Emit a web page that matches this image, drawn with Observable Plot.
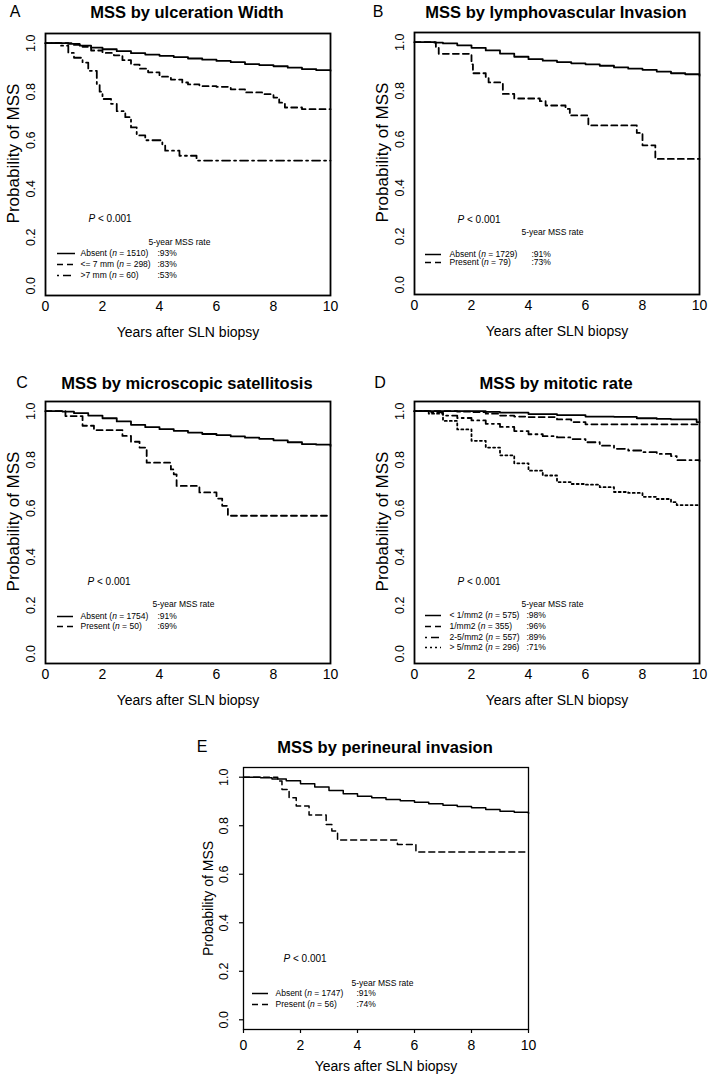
<!DOCTYPE html>
<html><head><meta charset="utf-8">
<script src="https://cdn.jsdelivr.net/npm/d3@7"></script>
<script src="https://cdn.jsdelivr.net/npm/@observablehq/plot@0.6"></script>
<style>
body{margin:0;background:#fff;font-family:"Liberation Sans",Arial,sans-serif;overflow:hidden}
#root{position:relative;width:709px;height:1075px}
.lbl{position:absolute;transform:translate(-50%,-50%);line-height:1;white-space:nowrap;color:#000}
.letter{font-size:16px}
.title{font-size:16.5px;font-weight:bold}
.plot{position:absolute}
</style></head><body><div id="root"></div>
<script>
// ---------- data ----------
const yearTicks = [0, 2, 4, 6, 8, 10];
const probTicks = [0, 0.2, 0.4, 0.6, 0.8, 1.0];
const legendHeader = "5-year MSS rate";
const pValueText = "P < 0.001";
const xLabel = "Years after SLN biopsy";
const yLabel = "Probability of MSS";

// A: ulceration width
const aAbsentT = [0, 0.8, 1.2, 1.6, 2.0, 2.5, 3.0, 3.5, 4.0, 4.5, 5.0, 5.5, 6.0, 6.5, 7.0, 7.5, 8.0, 8.5, 9.0, 9.5, 10];
const aAbsentS = [1.0, 0.997, 0.99, 0.982, 0.975, 0.967, 0.959, 0.953, 0.948, 0.943, 0.937, 0.932, 0.927, 0.922, 0.914, 0.91, 0.905, 0.899, 0.893, 0.889, 0.886];
const aMidT = [0, 1.0, 1.3, 1.6, 2.0, 2.4, 2.7, 3.0, 3.3, 3.6, 4.0, 4.4, 4.8, 5.0, 5.4, 6.0, 6.5, 7.0, 7.6, 8.0, 8.2, 8.4, 9.0, 10];
const aMidS = [1.0, 0.993, 0.985, 0.97, 0.96, 0.95, 0.93, 0.912, 0.895, 0.88, 0.862, 0.85, 0.838, 0.83, 0.823, 0.82, 0.81, 0.797, 0.79, 0.776, 0.755, 0.735, 0.728, 0.728];
const aWideT = [0, 0.5, 0.8, 1.0, 1.3, 1.5, 1.8, 1.9, 2.0, 2.3, 2.5, 2.8, 3.0, 3.2, 3.5, 4.1, 4.2, 4.7, 5.3, 10];
const aWideS = [1.0, 0.99, 0.96, 0.94, 0.92, 0.886, 0.83, 0.80, 0.77, 0.75, 0.72, 0.695, 0.653, 0.62, 0.60, 0.578, 0.557, 0.536, 0.516, 0.516];
const aLabels = ["Absent (n = 1510)", "<= 7 mm (n = 298)", ">7 mm (n = 60)"];
const aRates = [":93%", ":83%", ":53%"];

// B: lymphovascular invasion
const bAbsentT = [0, 0.7, 1.0, 1.5, 2.0, 2.5, 3.0, 3.5, 4.0, 4.5, 5.0, 5.5, 6.0, 6.5, 7.0, 7.5, 8.0, 8.5, 9.0, 9.5, 10];
const bAbsentS = [1.0, 0.998, 0.995, 0.987, 0.977, 0.966, 0.953, 0.94, 0.93, 0.924, 0.918, 0.913, 0.909, 0.903, 0.896, 0.891, 0.886, 0.879, 0.872, 0.868, 0.862];
const bPresentT = [0, 0.75, 0.85, 2.0, 2.05, 2.5, 2.6, 3.1, 3.5, 4.4, 4.6, 5.3, 5.45, 6.1, 7.8, 8.0, 8.45, 10];
const bPresentS = [1.0, 0.977, 0.952, 0.909, 0.872, 0.854, 0.834, 0.787, 0.768, 0.757, 0.739, 0.725, 0.698, 0.657, 0.626, 0.575, 0.519, 0.519];
const bLabels = ["Absent (n = 1729)", "Present (n = 79)"];
const bRates = [":91%", ":73%"];

// C: microscopic satellitosis
const cAbsentT = [0, 0.6, 1.0, 1.5, 2.0, 2.5, 3.0, 3.5, 4.0, 4.5, 5.0, 5.5, 6.0, 6.5, 7.0, 7.5, 8.0, 8.5, 9.0, 9.5, 10];
const cAbsentS = [1.0, 0.998, 0.992, 0.982, 0.971, 0.958, 0.944, 0.934, 0.926, 0.919, 0.912, 0.906, 0.901, 0.896, 0.891, 0.886, 0.88, 0.872, 0.864, 0.862, 0.857];
const cPresentT = [0, 0.7, 1.3, 1.7, 2.7, 3.0, 3.3, 3.55, 4.4, 4.5, 4.6, 5.4, 6.0, 6.2, 6.4, 10];
const cPresentS = [1.0, 0.98, 0.94, 0.922, 0.898, 0.874, 0.85, 0.788, 0.76, 0.74, 0.692, 0.665, 0.64, 0.61, 0.569, 0.569];
const cLabels = ["Absent (n = 1754)", "Present (n = 50)"];
const cRates = [":91%", ":69%"];

// D: mitotic rate
const dLowT = [0, 2.5, 3.0, 4.0, 5.0, 6.0, 7.0, 7.8, 8.5, 9.0, 9.9, 10];
const dLowS = [1.0, 0.997, 0.994, 0.988, 0.984, 0.978, 0.977, 0.971, 0.968, 0.966, 0.955, 0.955];
const dOneT = [0, 1.5, 2.0, 2.5, 3.0, 3.5, 4.0, 5.0, 5.5, 6.0, 10];
const dOneS = [1.0, 0.998, 0.996, 0.99, 0.982, 0.978, 0.976, 0.966, 0.955, 0.946, 0.946];
const dMidT = [0, 0.5, 1.0, 1.5, 2.0, 2.5, 3.0, 3.5, 4.0, 4.5, 5.0, 5.5, 6.0, 6.5, 7.0, 7.5, 8.0, 8.5, 9.0, 9.2, 10];
const dMidS = [1.0, 0.995, 0.982, 0.972, 0.962, 0.948, 0.935, 0.918, 0.905, 0.897, 0.892, 0.885, 0.872, 0.858, 0.845, 0.838, 0.831, 0.824, 0.815, 0.798, 0.795];
const dHighT = [0, 0.5, 1.0, 1.5, 2.0, 2.5, 3.0, 3.5, 4.0, 4.5, 5.0, 5.5, 6.0, 6.5, 7.0, 7.5, 8.0, 8.5, 9.0, 9.2, 10];
const dHighS = [1.0, 0.99, 0.96, 0.925, 0.878, 0.85, 0.818, 0.785, 0.755, 0.735, 0.708, 0.7, 0.697, 0.687, 0.667, 0.663, 0.647, 0.638, 0.625, 0.613, 0.613];
const dLabels = ["< 1/mm2 (n = 575)", "1/mm2 (n = 355)", "2-5/mm2 (n = 557)", "> 5/mm2 (n = 296)"];
const dRates = [":98%", ":96%", ":89%", ":71%"];

// E: perineural invasion
const eAbsentT = [0, 0.6, 1.0, 1.5, 2.0, 2.5, 3.0, 3.5, 4.0, 4.5, 5.0, 5.5, 6.0, 6.5, 7.0, 7.5, 8.0, 8.5, 9.0, 9.5, 10];
const eAbsentS = [1.0, 0.998, 0.993, 0.985, 0.973, 0.96, 0.945, 0.932, 0.922, 0.915, 0.908, 0.903, 0.897, 0.891, 0.884, 0.879, 0.874, 0.867, 0.86, 0.856, 0.849];
const ePresentT = [0, 1.2, 1.35, 1.6, 1.85, 2.3, 2.9, 3.1, 3.3, 5.4, 6.05, 10];
const ePresentS = [1.0, 0.984, 0.949, 0.915, 0.881, 0.844, 0.805, 0.778, 0.741, 0.723, 0.692, 0.692];
const eLabels = ["Absent (n = 1747)", "Present (n = 56)"];
const eRates = [":91%", ":74%"];

// ---------- styles / layout ----------
const SOLID = null, DASH = "6,4", DOTDASH = "2,4,8,4", DOT = "2,3";
const panels = [
  {letter: "A", title: "MSS by ulceration Width", bx: 45, by: 33, letterPos: [15, 12], titlePos: [187, 12],
   series: [[aAbsentT, aAbsentS, SOLID], [aMidT, aMidS, DASH], [aWideT, aWideS, DOTDASH]], labels: aLabels, rates: aRates,
   hdr: 209, rows: [220, 231, 242], p: [43, 185], samp: [12, 30], lab: 35, pct: 112, hx: 103, ticks: false, ylabDy: -11, ylabSize: 17},
  {letter: "B", title: "MSS by lymphovascular Invasion", bx: 414, by: 32, letterPos: [378, 12], titlePos: [556, 12],
   series: [[bAbsentT, bAbsentS, SOLID], [bPresentT, bPresentS, DASH]], labels: bLabels, rates: bRates,
   hdr: 200, rows: [222, 230], p: [43, 187], samp: [11, 27], lab: 35, pct: 117, hx: 107, ticks: false, ylabDy: -11, ylabSize: 17},
  {letter: "C", title: "MSS by microscopic satellitosis", bx: 45, by: 401, letterPos: [22, 383], titlePos: [187, 383],
   series: [[cAbsentT, cAbsentS, SOLID], [cPresentT, cPresentS, DASH]], labels: cLabels, rates: cRates,
   hdr: 203, rows: [215, 225], p: [42, 180], samp: [12, 28], lab: 35, pct: 112, hx: 107, ticks: false, ylabDy: -11, ylabSize: 17},
  {letter: "D", title: "MSS by mitotic rate", bx: 414, by: 401, letterPos: [380, 383], titlePos: [556, 383],
   series: [[dLowT, dLowS, SOLID], [dOneT, dOneS, DASH], [dMidT, dMidS, DOTDASH], [dHighT, dHighS, DOT]], labels: dLabels, rates: dRates,
   hdr: 203, rows: [214, 225, 236, 246], p: [43, 180], samp: [11, 27], lab: 35, pct: 112, hx: 107, ticks: false, ylabDy: -11, ylabSize: 17},
  {letter: "E", title: "MSS by perineural invasion", bx: 243, by: 767, letterPos: [202, 747], titlePos: [385, 747],
   series: [[eAbsentT, eAbsentS, SOLID], [ePresentT, ePresentS, DASH]], labels: eLabels, rates: eRates,
   hdr: 216, rows: [226, 237], p: [40, 191], samp: [9, 25], lab: 32, pct: 113, hx: 108, ticks: true, ylabDy: 0, ylabSize: 14}
];

const root = document.getElementById("root");
const W = 285, H = 262, mL = 45, mT = 10, mR = 12, mB = 46;
const xs = (px) => px / W * 10;
const ys = (py) => 1.04 - py / H * 1.08;

function italicize(svg) {
  svg.querySelectorAll("text").forEach((t) => {
    if (t.querySelector("tspan")) return;
    const s = t.textContent;
    let parts = null;
    let m = s.match(/^(.*\()n( = .*)$/);
    if (m) parts = [[m[1], false], ["n", true], [m[2], false]];
    else if (s.startsWith("P <")) parts = [["P", true], [s.slice(1), false]];
    if (!parts) return;
    t.textContent = "";
    for (const [txt, it] of parts) {
      const sp = document.createElementNS("http://www.w3.org/2000/svg", "tspan");
      sp.textContent = txt;
      if (it) sp.setAttribute("font-style", "italic");
      t.appendChild(sp);
    }
  });
}

for (const p of panels) {
  const lw = p.ticks ? 1.5 : 1.8;
  const fw = p.ticks ? 1.3 : 1.8;
  const marks = [];
  p.series.forEach(([T, S, dash]) => {
    marks.push(Plot.line(T.map((t, i) => ({t, s: S[i]})), {
      x: "t", y: "s", curve: "step-after", stroke: "#000", strokeWidth: lw,
      strokeDasharray: dash || undefined
    }));
  });
  marks.push(Plot.frame({stroke: "#000", strokeWidth: fw}));
  marks.push(Plot.axisX({ticks: yearTicks, tickSize: p.ticks ? 4 : 0, tickPadding: p.ticks ? 7 : 6, fontSize: 14, label: null, stroke: "#000", strokeWidth: 1.2}));
  marks.push(Plot.axisY({ticks: probTicks, tickSize: p.ticks ? 4 : 0, tickPadding: p.ticks ? 11.5 : 10.5, tickRotate: -90, tickFormat: d3.format(".1f"), fontSize: 12.5, label: null, stroke: "#000", strokeWidth: 1.2}));
  marks.push(Plot.text([xLabel], {frameAnchor: "bottom", dy: 37, text: (d) => d, fontSize: 14, lineAnchor: "middle"}));
  marks.push(Plot.text([yLabel], {frameAnchor: "left", dx: p.ticks ? -35 : -32, dy: p.ylabDy, rotate: -90, text: (d) => d, fontSize: p.ylabSize, lineAnchor: "middle", textAnchor: "middle"}));
  // p-value and legend
  marks.push(Plot.text([pValueText], {x: xs(p.p[0]), y: ys(p.p[1]), text: (d) => d, fontSize: 10, textAnchor: "start"}));
  marks.push(Plot.text([legendHeader], {x: xs(p.hx), y: ys(p.hdr), text: (d) => d, fontSize: 8.5, textAnchor: "start"}));
  p.series.forEach(([, , dash], i) => {
    marks.push(Plot.ruleY([ys(p.rows[i])], {x1: xs(p.samp[0]), x2: xs(p.samp[1]), stroke: "#000", strokeWidth: 1.5, strokeDasharray: dash || undefined}));
  });
  marks.push(Plot.text(p.labels, {x: xs(p.lab), y: (d, i) => ys(p.rows[i]), text: (d) => d, fontSize: 8.5, textAnchor: "start"}));
  marks.push(Plot.text(p.rates, {x: xs(p.pct), y: (d, i) => ys(p.rows[i]), text: (d) => d, fontSize: 8.5, textAnchor: "start"}));

  const svg = Plot.plot({
    width: mL + W + mR, height: mT + H + mB,
    marginLeft: mL, marginTop: mT, marginRight: mR, marginBottom: mB,
    x: {domain: [0, 10]},
    y: {domain: [-0.04, 1.04]},
    style: {fontFamily: "'Liberation Sans', Arial, sans-serif", color: "#000", background: "transparent", overflow: "visible"},
    marks
  });
  italicize(svg);
  svg.classList.add("plot");
  svg.style.left = (p.bx - mL) + "px";
  svg.style.top = (p.by - mT) + "px";
  root.appendChild(svg);

  const L = document.createElement("div");
  L.className = "lbl letter"; L.textContent = p.letter;
  L.style.left = p.letterPos[0] + "px"; L.style.top = p.letterPos[1] + "px";
  root.appendChild(L);
  const Tt = document.createElement("div");
  Tt.className = "lbl title"; Tt.textContent = p.title;
  Tt.style.left = p.titlePos[0] + "px"; Tt.style.top = p.titlePos[1] + "px";
  root.appendChild(Tt);
}
</script></body></html>
